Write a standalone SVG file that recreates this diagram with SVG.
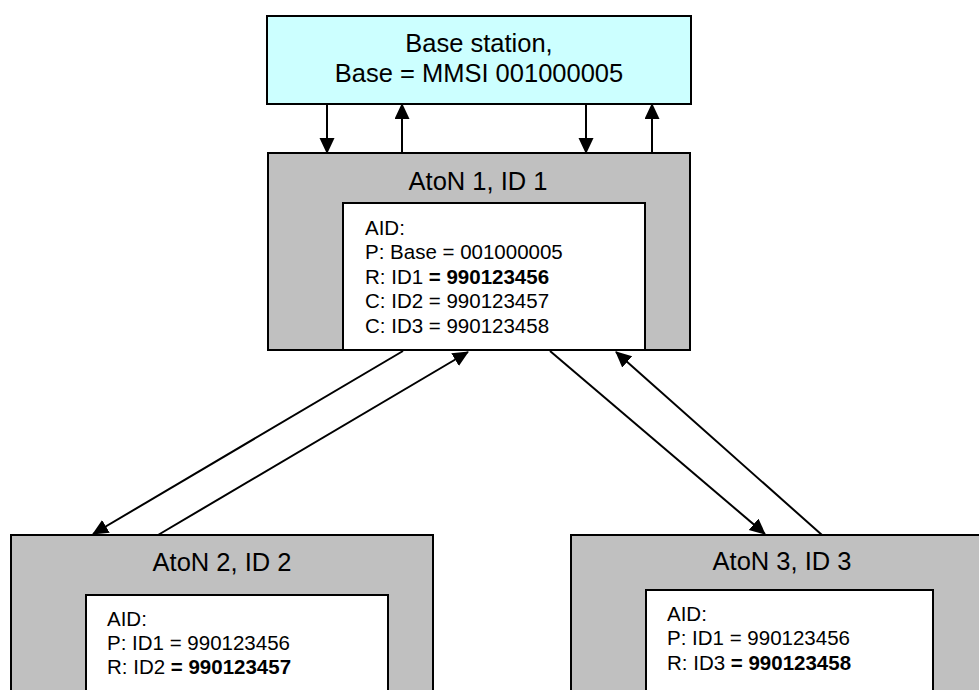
<svg xmlns="http://www.w3.org/2000/svg" width="979" height="690" viewBox="0 0 979 690">
<style>
.box{stroke:#000;stroke-width:2}
.gray{fill:#c0c0c0}
.white{fill:#fff}
.cyan{fill:#ccffff}
.title{font-family:"Liberation Sans",Arial,sans-serif;font-size:25.5px;fill:#000;text-anchor:middle}
.body{font-family:"Liberation Sans",Arial,sans-serif;font-size:20.5px;fill:#000}
.b{font-weight:bold}
.conn{stroke:#000;stroke-width:2;fill:none;marker-end:url(#arr)}
</style>
<defs>
<marker id="arr" markerUnits="userSpaceOnUse" markerWidth="17" markerHeight="16" refX="15" refY="7.5" orient="auto">
<path d="M0,0 L16,7.5 L0,15 z" fill="#000"/>
</marker>
</defs>
<rect width="979" height="690" fill="#fff"/>
<g id="base">
<rect class="box cyan" x="267" y="16" width="424" height="88"/>
<text class="title" x="479" y="52">Base station,</text>
<text class="title" x="479" y="82">Base = MMSI 001000005</text>
</g>
<g id="aton1">
<rect class="box gray" x="268" y="153" width="422" height="197"/>
<text class="title" x="478" y="190">AtoN 1, ID 1</text>
<rect class="box white" x="343" y="203" width="302" height="147"/>
<text class="body" x="365" y="235">AID:</text>
<text class="body" x="365" y="259">P: Base = 001000005</text>
<text class="body" x="365" y="284">R: ID1 <tspan class="b">= 990123456</tspan></text>
<text class="body" x="365" y="308">C: ID2 = 990123457</text>
<text class="body" x="365" y="333">C: ID3 = 990123458</text>
</g>
<g id="aton2">
<rect class="box gray" x="11" y="535" width="422" height="170"/>
<text class="title" x="222" y="571">AtoN 2, ID 2</text>
<rect class="box white" x="86" y="595" width="302" height="110"/>
<text class="body" x="107" y="626">AID:</text>
<text class="body" x="107" y="650">P: ID1 = 990123456</text>
<text class="body" x="107" y="674">R: ID2 <tspan class="b">= 990123457</tspan></text>
</g>
<g id="aton3">
<rect class="box gray" x="571" y="535" width="430" height="170"/>
<text class="title" x="782" y="570">AtoN 3, ID 3</text>
<rect class="box white" x="646" y="590" width="287" height="110"/>
<text class="body" x="667" y="621">AID:</text>
<text class="body" x="667" y="645">P: ID1 = 990123456</text>
<text class="body" x="667" y="670">R: ID3 <tspan class="b">= 990123458</tspan></text>
</g>
<g id="connectors">
<line class="conn" x1="327" y1="104" x2="327" y2="153"/>
<line class="conn" x1="402" y1="153" x2="402" y2="104"/>
<line class="conn" x1="586" y1="104" x2="586" y2="153"/>
<line class="conn" x1="652" y1="153" x2="652" y2="104"/>
<line class="conn" x1="403" y1="351" x2="93" y2="534"/>
<line class="conn" x1="158" y1="535" x2="468" y2="352"/>
<line class="conn" x1="550" y1="351" x2="765" y2="534"/>
<line class="conn" x1="822" y1="535" x2="616" y2="352"/>
</g>
</svg>
